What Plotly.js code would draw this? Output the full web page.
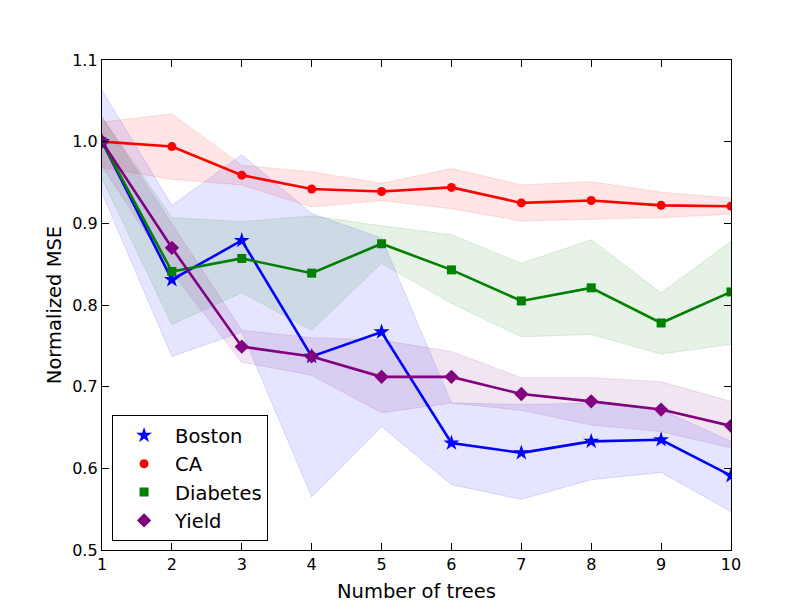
<!DOCTYPE html>
<html>
<head>
<meta charset="utf-8">
<script src="https://cdn.plot.ly/plotly-3.0.1.min.js"></script>
<style>html,body{margin:0;padding:0;background:#fff;}#chart{width:812px;height:612px;}</style>
</head>
<body>
<div id="chart"></div>
<script>
// ---- data ----
const trees = [1, 2, 3, 4, 5, 6, 7, 8, 9, 10];

const seriesNames = ["Boston", "CA", "Diabetes", "Yield"];

const bostonMean  = [1.000, 0.831, 0.879, 0.737, 0.767, 0.631, 0.619, 0.633, 0.635, 0.591];
const bostonUpper = [1.063, 0.922, 0.984, 0.912, 0.882, 0.680, 0.678, 0.680, 0.672, 0.633];
const bostonLower = [0.937, 0.737, 0.767, 0.565, 0.651, 0.580, 0.562, 0.586, 0.595, 0.547];

const caMean  = [1.000, 0.994, 0.959, 0.942, 0.939, 0.944, 0.925, 0.928, 0.922, 0.921];
const caUpper = [1.024, 1.034, 0.971, 0.963, 0.949, 0.967, 0.947, 0.951, 0.938, 0.931];
const caLower = [0.968, 0.954, 0.947, 0.920, 0.928, 0.918, 0.903, 0.905, 0.907, 0.911];

const diabetesMean  = [1.000, 0.841, 0.857, 0.839, 0.875, 0.843, 0.805, 0.821, 0.778, 0.816];
const diabetesUpper = [1.030, 0.907, 0.902, 0.909, 0.897, 0.886, 0.851, 0.880, 0.815, 0.878];
const diabetesLower = [0.955, 0.776, 0.815, 0.769, 0.851, 0.802, 0.761, 0.764, 0.740, 0.752];

const yieldMean  = [1.000, 0.870, 0.749, 0.737, 0.712, 0.712, 0.691, 0.682, 0.672, 0.652];
const yieldUpper = [1.030, 0.900, 0.769, 0.760, 0.757, 0.743, 0.711, 0.711, 0.706, 0.682];
const yieldLower = [0.970, 0.840, 0.730, 0.714, 0.668, 0.680, 0.671, 0.653, 0.645, 0.625];

const yTickVals = [0.5, 0.6, 0.7, 0.8, 0.9, 1.0, 1.1];
const xTickVals = [1, 2, 3, 4, 5, 6, 7, 8, 9, 10];

// ---- styling ----
const styles = [
  {rgb: "0,0,255",   color: "#0000ff", symbol: "star",    size: 12},
  {rgb: "255,0,0",   color: "#ff0000", symbol: "circle",  size: 9},
  {rgb: "0,128,0",   color: "#008000", symbol: "square",  size: 9},
  {rgb: "128,0,128", color: "#800080", symbol: "diamond", size: 11}
];
const means  = [bostonMean, caMean, diabetesMean, yieldMean];
const uppers = [bostonUpper, caUpper, diabetesUpper, yieldUpper];
const lowers = [bostonLower, caLower, diabetesLower, yieldLower];

const traces = [];
// bands
for (let i = 0; i < seriesNames.length; i++) {
  const s = styles[i];
  traces.push({
    x: trees, y: uppers[i], type: "scatter", mode: "lines",
    line: {color: "rgba(" + s.rgb + ",0.12)", width: 1},
    showlegend: false, hoverinfo: "skip"
  });
  traces.push({
    x: trees, y: lowers[i], type: "scatter", mode: "lines",
    line: {color: "rgba(" + s.rgb + ",0.12)", width: 1},
    fill: "tonexty", fillcolor: "rgba(" + s.rgb + ",0.1)",
    showlegend: false, hoverinfo: "skip"
  });
}
// lines
for (let i = 0; i < seriesNames.length; i++) {
  const s = styles[i];
  traces.push({
    x: trees, y: means[i], type: "scatter", mode: "lines",
    line: {color: s.color, width: 2.6},
    showlegend: false, name: seriesNames[i]
  });
}
// markers (these carry the legend)
for (let i = 0; i < seriesNames.length; i++) {
  const s = styles[i];
  traces.push({
    x: trees, y: means[i], type: "scatter", mode: "markers",
    marker: {color: s.color, symbol: s.symbol, size: s.size, line: {width: 0}},
    name: seriesNames[i], legendgroup: seriesNames[i], showlegend: true
  });
}

const axisCommon = {
  showline: true, linecolor: "#000", linewidth: 1.2, mirror: "ticks",
  ticks: "inside", ticklen: 7, tickwidth: 1, tickcolor: "#000",
  showgrid: false, zeroline: false,
  tickfont: {family: "DejaVu Sans", size: 16, color: "#000"},
  automargin: false
};

const layout = {
  width: 812, height: 612,
  paper_bgcolor: "#fff", plot_bgcolor: "#fff",
  margin: {l: 102, r: 81, t: 60, b: 62},
  font: {family: "DejaVu Sans", color: "#000"},
  xaxis: Object.assign({}, axisCommon, {
    range: [1, 10], tickmode: "array", tickvals: xTickVals,
    title: {text: "Number of trees", font: {family: "DejaVu Sans", size: 19.5, color: "#000"}, standoff: 11}
  }),
  yaxis: Object.assign({}, axisCommon, {
    range: [0.5, 1.1], tickmode: "array", tickvals: yTickVals, tickformat: ".1f",
    title: {text: "Normalized MSE", font: {family: "DejaVu Sans", size: 19.5, color: "#000"}, standoff: 5}
  }),
  legend: {
    x: 0.016, y: 0.018, xanchor: "left", yanchor: "bottom",
    bgcolor: "#fff", bordercolor: "#000", borderwidth: 1,
    font: {family: "DejaVu Sans", size: 19.5, color: "#000"},
    tracegroupgap: 0, itemsizing: "trace", itemwidth: 52
  },
  showlegend: true
};

Plotly.newPlot("chart", traces, layout, {staticPlot: true, displayModeBar: false});
</script>
</body>
</html>
